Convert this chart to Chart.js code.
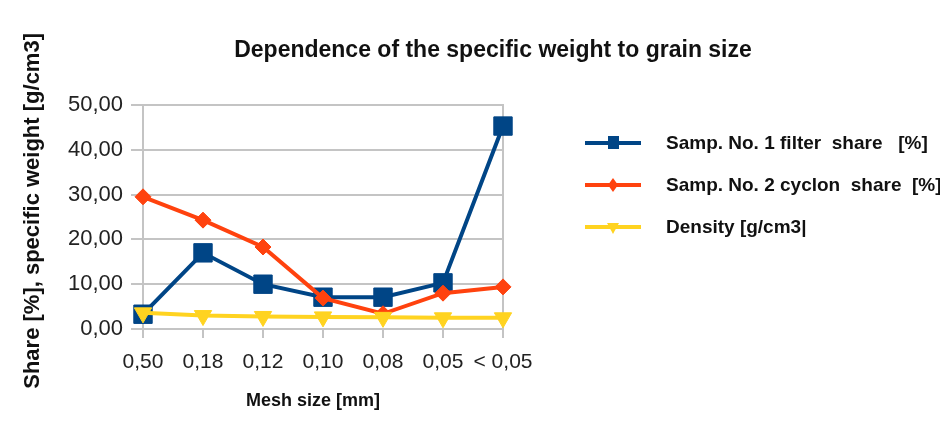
<!DOCTYPE html>
<html>
<head>
<meta charset="utf-8">
<script src="https://cdn.jsdelivr.net/npm/chart.js@4/dist/chart.umd.min.js"></script>
<style>
body { margin: 0; background: #fff; }
#wrap { position: relative; width: 940px; height: 430px; font-family: "Liberation Sans", Arial, sans-serif; }
#chart { position: absolute; left: 0; top: 0; }
#title { position: absolute; left: 0; width: 986px; top: 36px; text-align: center; font-weight: bold; font-size: 23px; color: #111; }
#legend { position: absolute; left: 582px; top: 122px; }
.item { display: flex; align-items: center; height: 42px; }
.item canvas { width: 62px; height: 24px; margin-right: 22px; }
.item span { white-space: pre; font-weight: bold; font-size: 19px; color: #111; }
</style>
</head>
<body>
<div id="wrap">
<canvas id="chart" width="940" height="430"></canvas>
<div id="title">Dependence of the specific weight to grain size</div>
<div id="legend"></div>
</div>
<script>
const categories = ['0,50', '0,18', '0,12', '0,10', '0,08', '0,05', '< 0,05'];
const filterShare = [3.3, 17.0, 10.0, 7.1, 7.1, 10.3, 45.3];
const cyclonShare = [29.5, 24.3, 18.3, 6.9, 3.4, 8.0, 9.4];
const density = [3.6, 3.0, 2.8, 2.7, 2.6, 2.5, 2.5];
const yTicks = [0, 10, 20, 30, 40, 50];
const seriesNames = ['Samp. No. 1 filter  share   [%]', 'Samp. No. 2 cyclon  share  [%]', 'Density [g/cm3|'];

const blue = '#004586';
const orange = '#ff420e';
const yellow = '#ffd320';
const gridGray = '#c4c4c4';

const ctx = document.getElementById('chart').getContext('2d');

const chart = new Chart(ctx, {
type: 'line',
data: {
labels: categories,
datasets: [{
label: seriesNames[0],
data: filterShare,
borderColor: blue,
backgroundColor: blue,
borderWidth: 4,
pointStyle: 'rect',
pointRadius: 13,
pointBorderWidth: 1,
order: 2,
tension: 0
}, {
label: seriesNames[1],
data: cyclonShare,
borderColor: orange,
backgroundColor: orange,
borderWidth: 4,
pointStyle: 'rectRot',
pointRadius: 8,
pointBorderWidth: 1,
order: 1,
tension: 0
}, {
label: seriesNames[2],
data: density,
borderColor: yellow,
backgroundColor: yellow,
borderWidth: 4,
pointStyle: 'triangle',
pointRotation: 180,
pointRadius: 10,
pointBorderWidth: 1,
order: 0,
tension: 0
}]
},
options: {
responsive: false,
animation: false,
layout: { padding: { top: 105, left: 0, right: 0, bottom: 0 } },
plugins: {
legend: { display: false },
tooltip: { enabled: false }
},
scales: {
x: {
offset: false,
grid: {
color: c => c.index === categories.length - 1 ? gridGray : 'transparent',
tickColor: gridGray,
lineWidth: 2,
tickLength: 9
},
border: { display: false },
ticks: { color: '#222', font: { family: 'Liberation Sans', size: 21 }, padding: 12, maxRotation: 0, autoSkip: false },
// trailing spaces pull the centred title a bit left, like the original
title: { display: true, text: 'Mesh size [mm]    ', color: '#111', font: { family: 'Liberation Sans', size: 18, weight: 'bold' }, padding: { top: 0, bottom: 18 } },
afterFit: s => { s.height = 101; }
},
y: {
min: 0,
max: 50,
afterBuildTicks: s => { s.ticks = yTicks.map(v => ({ value: v })); },
grid: { color: gridGray, lineWidth: 2, tickLength: 12 },
border: { display: true, color: gridGray, width: 2 },
ticks: {
color: '#222',
font: { family: 'Liberation Sans', size: 22 },
padding: 8,
callback: v => v.toFixed(2).replace('.', ',')
},
title: { display: true, text: '  Share [%], specific weight [g/cm3]', color: '#111', font: { family: 'Liberation Sans', size: 22, weight: 'bold' }, padding: { top: 20, bottom: 0 } },
afterFit: s => { s.width = 143; }
},
y2: {
position: 'right',
min: 0,
max: 50,
grid: { display: false },
border: { display: true, color: gridGray, width: 2 },
ticks: { display: false },
afterFit: s => { s.width = 437; }
}
}
}
});

// legend on the right, line + marker like the original
const legend = document.getElementById('legend');
chart.data.datasets.forEach(function(ds, i){
let item = document.createElement('div');
item.className = 'item';
let c = document.createElement('canvas');
c.width = 62; c.height = 24;
let g = c.getContext('2d');
g.strokeStyle = ds.borderColor;
g.fillStyle = ds.backgroundColor;
g.lineWidth = 4;
g.beginPath(); g.moveTo(3, 12); g.lineTo(59, 12); g.stroke();
g.beginPath();
if(ds.pointStyle === 'rect'){
g.rect(26, 5, 11, 13);
} else if(ds.pointStyle === 'rectRot'){
g.moveTo(31, 5); g.lineTo(36, 12); g.lineTo(31, 19); g.lineTo(26, 12);
} else {
g.moveTo(25, 8); g.lineTo(37, 8); g.lineTo(31, 19);
}
g.closePath(); g.fill();
let t = document.createElement('span');
t.textContent = ds.label;
item.appendChild(c);
item.appendChild(t);
legend.appendChild(item);
});
</script>
</body>
</html>
